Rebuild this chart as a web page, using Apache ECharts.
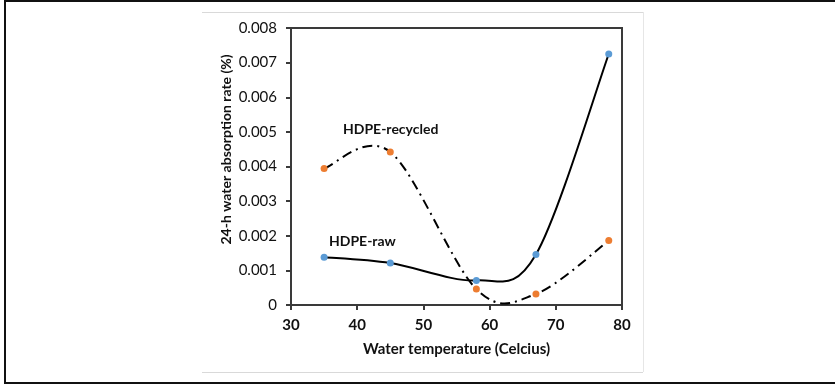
<!DOCTYPE html>
<html>
<head>
<meta charset="utf-8">
<script src="https://cdn.jsdelivr.net/npm/echarts@6/dist/echarts.min.js"></script>
<style>
html,body{margin:0;padding:0;background:#fff;}
#main{width:835px;height:384px;}
</style>
</head>
<body>
<div id="main"></div>
<script>
const temperatures = [35, 45, 58, 67, 78];
const hdpeRaw = [0.00138, 0.00121, 0.00071, 0.00146, 0.00725];
const hdpeRecycled = [0.00394, 0.00442, 0.00046, 0.00032, 0.00186];
const xTicks = [30, 40, 50, 60, 70, 80];
const yTicks = [0, 0.001, 0.002, 0.003, 0.004, 0.005, 0.006, 0.007, 0.008];

const FONT = 'Lato';
const chart = echarts.init(document.getElementById('main'), null, {renderer: 'canvas'});

const pairs = (xs, ys) => xs.map((x, i) => [x, ys[i]]);

// Excel-style smoothed line (Catmull-Rom -> cubic Bezier) through the library's coordinate system
function smoothRenderer(xs, ys, dash) {
  return function (params, api) {
    if (params.dataIndex !== 0) return null;
    const p = xs.map((x, i) => api.coord([x, ys[i]]));
    const n = p.length;
    let d = 'M' + p[0][0] + ' ' + p[0][1];
    for (let i = 0; i < n - 1; i++) {
      const p0 = p[Math.max(i - 1, 0)], p1 = p[i], p2 = p[i + 1], p3 = p[Math.min(i + 2, n - 1)];
      const c1x = p1[0] + (p2[0] - p0[0]) / 6, c1y = p1[1] + (p2[1] - p0[1]) / 6;
      const c2x = p2[0] - (p3[0] - p1[0]) / 6, c2y = p2[1] - (p3[1] - p1[1]) / 6;
      d += ' C' + c1x + ' ' + c1y + ' ' + c2x + ' ' + c2y + ' ' + p2[0] + ' ' + p2[1];
    }
    return {
      type: 'path',
      shape: {pathData: d},
      style: {fill: null, stroke: '#000', lineWidth: 2, lineDash: dash || null}
    };
  };
}

const axisColor = '#3a3a3a';

chart.setOption({
  animation: false,
  backgroundColor: '#fff',
  textStyle: {fontFamily: FONT},
  grid: {left: 291, top: 28, width: 331, height: 277, show: true, borderColor: axisColor, borderWidth: 2, backgroundColor: 'transparent'},
  xAxis: {
    type: 'value', min: xTicks[0], max: xTicks[xTicks.length - 1], interval: 10,
    name: 'Water temperature (Celcius)', nameLocation: 'middle', nameGap: 37,
    nameTextStyle: {fontFamily: FONT, fontSize: 15, fontWeight: 'bold', color: '#111'},
    axisLine: {show: true, lineStyle: {color: axisColor, width: 2}},
    axisTick: {show: true, inside: false, length: 5, lineStyle: {color: axisColor, width: 2}},
    axisLabel: {fontFamily: FONT, fontSize: 15, fontWeight: 'bold', color: '#111', margin: 13},
    splitLine: {show: false}
  },
  yAxis: {
    type: 'value', min: yTicks[0], max: yTicks[yTicks.length - 1], interval: 0.001,
    name: '24-h water absorption rate (%)', nameLocation: 'middle', nameGap: 58,
    nameTextStyle: {fontFamily: FONT, fontSize: 14, fontWeight: 'bold', color: '#111', padding: [0, 0, 0, 34]},
    axisLine: {show: true, lineStyle: {color: axisColor, width: 2}},
    axisTick: {show: true, inside: false, length: 5, lineStyle: {color: axisColor, width: 2}},
    axisLabel: {fontFamily: FONT, fontSize: 15, color: '#111', margin: 14,
      formatter: v => (v === 0 ? '0' : v.toFixed(3))},
    splitLine: {show: false}
  },
  graphic: [
    {type: 'rect', shape: {x: 5, y: 1, width: 840, height: 382}, style: {fill: 'none', stroke: '#111', lineWidth: 2}, z: 100},
    {type: 'line', shape: {x1: 202, y1: 12.5, x2: 643, y2: 12.5}, style: {stroke: '#d9d9d9', lineWidth: 1}},
    {type: 'line', shape: {x1: 643.5, y1: 12, x2: 643.5, y2: 372}, style: {stroke: '#e6e6e6', lineWidth: 1}},
    {type: 'line', shape: {x1: 202, y1: 372.5, x2: 643, y2: 372.5}, style: {stroke: '#d9d9d9', lineWidth: 1}},
    {type: 'text', left: 343, top: 122, style: {text: 'HDPE-recycled', font: 'bold 14px Lato', fill: '#111'}},
    {type: 'text', left: 329, top: 234, style: {text: 'HDPE-raw', font: 'bold 14px Lato', fill: '#111'}}
  ],
  series: [
    {
      name: 'HDPE-raw line', type: 'custom', data: pairs(temperatures, hdpeRaw),
      renderItem: smoothRenderer(temperatures, hdpeRaw, null), z: 3, silent: true
    },
    {
      name: 'HDPE-recycled line', type: 'custom', data: pairs(temperatures, hdpeRecycled),
      renderItem: smoothRenderer(temperatures, hdpeRecycled, [10, 5, 2, 5]), z: 2, silent: true
    },
    {
      name: 'HDPE-raw', type: 'scatter', data: pairs(temperatures, hdpeRaw),
      symbol: 'circle', symbolSize: 7, itemStyle: {color: '#5B9BD5', borderWidth: 0, opacity: 1}, z: 5
    },
    {
      name: 'HDPE-recycled', type: 'scatter', data: pairs(temperatures, hdpeRecycled),
      symbol: 'circle', symbolSize: 7, itemStyle: {color: '#ED7D31', borderWidth: 0, opacity: 1}, z: 4
    }
  ]
});
</script>
</body>
</html>
